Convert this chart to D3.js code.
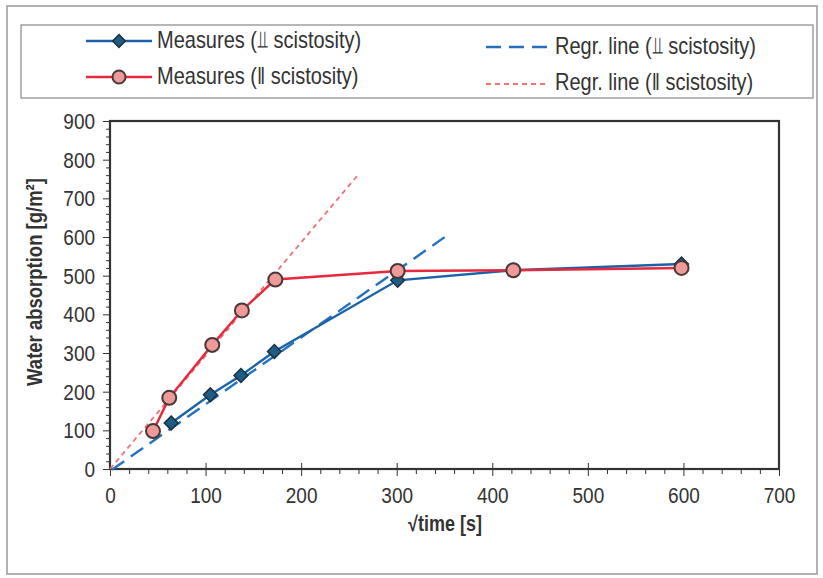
<!DOCTYPE html>
<html>
<head>
<meta charset="utf-8">
<script src="https://cdn.jsdelivr.net/npm/d3@7"></script>
<style>
  html, body { margin: 0; padding: 0; background: #fff; }
  svg { display: block; }
  text { font-family: "Liberation Sans", Arial, sans-serif; fill: #333; }
</style>
</head>
<body>
<svg id="chart" width="823" height="578"></svg>
<script>
// ---- data ----
const perpX = [64, 105, 137, 172, 301, 422, 598];
const perpY = [119, 192, 242, 304, 488, 514, 530];
const paraX = [45, 62, 107, 138, 173, 301, 422, 598];
const paraY = [98, 184, 321, 410, 490, 512, 514, 520];
const regrPerpX = [2, 355];
const regrPerpY = [-2, 608];
const regrParaX = [0, 260];
const regrParaY = [0, 762];
const xTicks = [0, 100, 200, 300, 400, 500, 600, 700];
const yTicks = [0, 100, 200, 300, 400, 500, 600, 700, 800, 900];
const legendLabels = ["Measures (\u2AEB scistosity)", "Measures (\u2016 scistosity)",
                      "Regr. line (\u2AEB scistosity)", "Regr. line (\u2016 scistosity)"];

const blue = "#1c62a8", blueDash = "#2472bd", red = "#e8283c", redDash = "#f07272";
const SY = 1.18; // vertical stretch of text like the scanned original

const svg = d3.select("#chart");

// outer frame
svg.append("rect").attr("x", 7).attr("y", 6).attr("width", 810).attr("height", 568)
  .attr("fill", "none").attr("stroke", "#999").attr("stroke-width", 1.5);
// legend box
svg.append("rect").attr("x", 21).attr("y", 25).attr("width", 792).attr("height", 73)
  .attr("fill", "none").attr("stroke", "#888").attr("stroke-width", 1.2);

const L = 110, R = 779, T = 121, B = 469;
const x = d3.scaleLinear().domain([0, 700]).range([L, R]);
const y = d3.scaleLinear().domain([0, 900]).range([B, T]);

const minorX = d3.range(0, 701, 20).filter(v => v % 100 !== 0);
const minorY = d3.range(0, 901, 20).filter(v => v % 100 !== 0);

const xAxis = svg.append("g").attr("transform", `translate(0,${B})`);
xAxis.call(d3.axisBottom(x).tickValues(minorX).tickSize(5).tickFormat(""));
const xMaj = svg.append("g").attr("transform", `translate(0,${B})`);
xMaj.call(d3.axisBottom(x).tickValues(xTicks).tickSize(7).tickPadding(10));
xMaj.selectAll(".tick line").attr("y1", -6);
const yAxis = svg.append("g").attr("transform", `translate(${L},0)`);
yAxis.call(d3.axisLeft(y).tickValues(minorY).tickSize(4).tickFormat(""));
const yMaj = svg.append("g").attr("transform", `translate(${L},0)`);
yMaj.call(d3.axisLeft(y).tickValues(yTicks).tickSize(7).tickPadding(8));
[xAxis, xMaj, yAxis, yMaj].forEach(g => {
  g.select(".domain").remove();
  g.selectAll(".tick line").attr("stroke", "#333").attr("stroke-width", 1);
  g.selectAll(".tick text").style("font-size", "19px").attr("fill", "#333");
});
yMaj.selectAll(".tick text").attr("transform", `scale(1,${SY})`).attr("dy", "0.34em");
xMaj.selectAll(".tick text").attr("transform", `scale(1,${SY})`).attr("y", 15);

// plot frame
svg.append("rect").attr("x", L).attr("y", T).attr("width", R - L).attr("height", B - T)
  .attr("fill", "none").attr("stroke", "#333").attr("stroke-width", 2.2);

// axis titles
svg.append("text").attr("transform", `translate(445,531) scale(1,${SY})`).attr("text-anchor", "middle")
  .style("font-size", "18px").style("font-weight", "bold").text("\u221Atime [s]");
svg.append("text").attr("transform", `translate(42,282) rotate(-90) scale(1,${SY})`).attr("text-anchor", "middle")
  .style("font-size", "18.5px").style("font-weight", "bold").text("Water absorption [g/m\u00B2]");

const line = d3.line().x(d => x(d[0])).y(d => y(d[1]));

// regression lines
svg.append("path").datum(d3.zip(regrPerpX, regrPerpY)).attr("d", line)
  .attr("fill", "none").attr("stroke", blueDash).attr("stroke-width", 2.4).attr("stroke-dasharray", "15,8");
svg.append("path").datum(d3.zip(regrParaX, regrParaY)).attr("d", line)
  .attr("fill", "none").attr("stroke", redDash).attr("stroke-width", 1.8).attr("stroke-dasharray", "5,4");

// measures perpendicular
svg.append("path").datum(d3.zip(perpX, perpY)).attr("d", line)
  .attr("fill", "none").attr("stroke", blue).attr("stroke-width", 2.4);
svg.append("g").selectAll("path").data(d3.zip(perpX, perpY)).join("path")
  .attr("transform", d => `translate(${x(d[0])},${y(d[1])}) rotate(45)`)
  .attr("d", d3.symbol().type(d3.symbolSquare).size(95))
  .attr("fill", "#1e5e86").attr("stroke", "#1d3040").attr("stroke-width", 1.5);

// measures parallel
svg.append("path").datum(d3.zip(paraX, paraY)).attr("d", line)
  .attr("fill", "none").attr("stroke", red).attr("stroke-width", 2.4);
svg.append("g").selectAll("circle").data(d3.zip(paraX, paraY)).join("circle")
  .attr("cx", d => x(d[0])).attr("cy", d => y(d[1])).attr("r", 7)
  .attr("fill", "#ee9a98").attr("stroke", "#4a3838").attr("stroke-width", 2);

// legend
const lg = svg.append("g");
lg.append("line").attr("x1", 86).attr("x2", 152).attr("y1", 41).attr("y2", 41).attr("stroke", blue).attr("stroke-width", 2.4);
lg.append("path").attr("transform", "translate(119,41) rotate(45)")
  .attr("d", d3.symbol().type(d3.symbolSquare).size(80)).attr("fill", "#1e5e86").attr("stroke", "#1d3040").attr("stroke-width", 1.5);
lg.append("line").attr("x1", 86).attr("x2", 152).attr("y1", 77).attr("y2", 77).attr("stroke", red).attr("stroke-width", 2.4);
lg.append("circle").attr("cx", 119).attr("cy", 77).attr("r", 6.5).attr("fill", "#ee9a98").attr("stroke", "#4a3838").attr("stroke-width", 2);
lg.append("line").attr("x1", 486).attr("x2", 549).attr("y1", 47).attr("y2", 47).attr("stroke", blueDash).attr("stroke-width", 2.4).attr("stroke-dasharray", "15,8");
lg.append("line").attr("x1", 486).attr("x2", 549).attr("y1", 84).attr("y2", 84).attr("stroke", redDash).attr("stroke-width", 1.8).attr("stroke-dasharray", "5,4");
const lpos = [[157, 48], [157, 84], [555, 54], [555, 90]];
legendLabels.forEach((t, i) => {
  lg.append("text").attr("transform", `translate(${lpos[i][0]},${lpos[i][1]}) scale(1,${SY})`)
    .style("font-size", "20px").text(t);
});
</script>
</body>
</html>
